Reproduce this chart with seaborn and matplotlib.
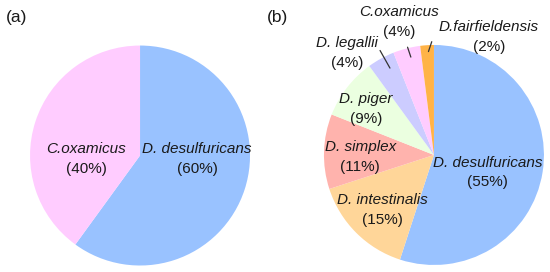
import matplotlib
matplotlib.use("Agg")
import matplotlib.pyplot as plt
import seaborn as sns

# ── DATA ──────────────────────────────────────────────────────────────
a_names  = ['D. desulfuricans', 'C.oxamicus']
a_values = [60, 40]
a_colors = ['#99C2FF', '#FFCCFF']

b_names  = ['D. desulfuricans', 'D. intestinalis', 'D. simplex', 'D. piger',
            'D. legallii', 'C.oxamicus', 'D.fairfieldensis']
b_values = [55, 15, 11, 9, 4, 4, 2]
b_colors = ['#99C2FF', '#FFD699', '#FFB3AD', '#EBFFE0',
            '#CCCCFF', '#FFCCFF', '#FFB347']

# label anchor points (pie units, radius = 1)
a_text_pos = [(0.52, -0.03), (-0.49, -0.03)]
b_text_pos = [(0.49, -0.16), (-0.47, -0.50), (-0.67, -0.02), (-0.62, 0.42),
              (-0.79, 0.93), (-0.32, 1.21), (0.50, 1.07)]
# leader lines for the thin slices: (label end, wedge end)
b_leaders = {4: ((-0.49, 0.95), (-0.40, 0.79)),
             5: ((-0.24, 0.98), (-0.21, 0.89)),
             6: ((-0.02, 1.03), (-0.05, 0.94))}

# ── STYLE ─────────────────────────────────────────────────────────────
sns.set_theme(style="white")
plt.rcParams['font.family'] = ['Liberation Sans', 'DejaVu Sans']
fs = 11
txt_col = '#1a1a1a'

fig = plt.figure(figsize=(5.5, 2.72), dpi=100)
ax_a = fig.add_axes([0.0, 0.0, 0.5, 1.0])
ax_b = fig.add_axes([0.5, 0.0, 0.5, 1.0])


def draw_pie(ax, names, values, colors, text_pos, leaders, xlim, ylim):
    ax.pie(values, colors=colors, startangle=90, counterclock=False,
           wedgeprops=dict(linewidth=0))
    for i, (name, val) in enumerate(zip(names, values)):
        x, y = text_pos[i]
        ax.text(x, y + 0.09, name, ha='center', va='center',
                fontsize=fs, color=txt_col, fontstyle='italic')
        ax.text(x, y - 0.09, f"({val}%)", ha='center', va='center',
                fontsize=fs, color=txt_col)
    for i, (p0, p1) in leaders.items():
        ax.plot([p0[0], p1[0]], [p0[1], p1[1]], color='#333333', lw=0.9)
    ax.set_xlim(*xlim)
    ax.set_ylim(*ylim)
    ax.set_aspect('equal')
    ax.axis('off')


draw_pie(ax_a, a_names, a_values, a_colors, a_text_pos, {},
         (-1.273, 1.227), (-1.059, 1.414))
draw_pie(ax_b, b_names, b_values, b_colors, b_text_pos, b_leaders,
         (-1.445, 1.055), (-1.064, 1.409))

fig.text(0.01, 0.935, '(a)', fontsize=12.5, ha='left', va='center', color=txt_col)
fig.text(0.485, 0.935, '(b)', fontsize=12.5, ha='left', va='center', color=txt_col)

fig.savefig('out.png', dpi=100)
